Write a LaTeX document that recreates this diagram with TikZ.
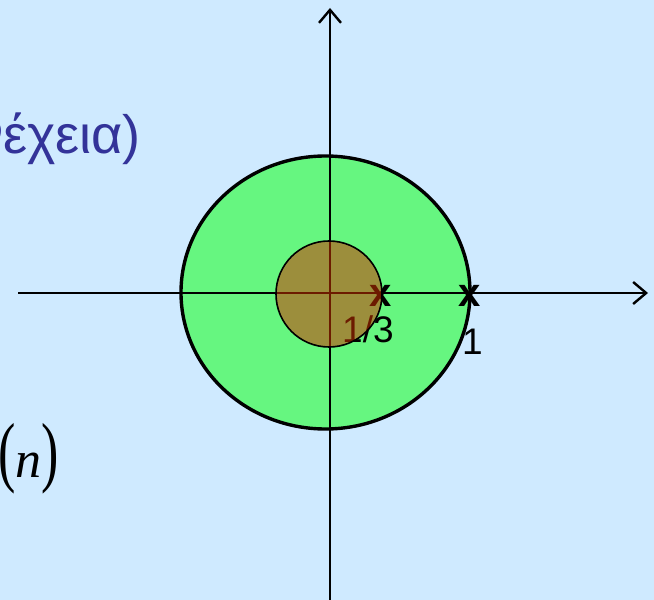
\documentclass[tikz,border=0pt]{standalone}
\usepackage{fontspec}
\setmainfont{Liberation Sans}
\newfontfamily\timesfont{Liberation Serif}
\usetikzlibrary{arrows.meta}
\definecolor{bgblue}{RGB}{207,234,255}
\definecolor{regiongreen}{RGB}{102,246,128}
\definecolor{txtblue}{RGB}{51,51,153}
\definecolor{roc}{RGB}{204,51,0}
\tikzset{
  axis/.style={line width=2.4pt,-{Straight Barb[length=13pt,width=22pt,line width=2.4pt]}},
  xmark/.style={font=\fontsize{40}{44}\selectfont\bfseries,inner sep=0pt,anchor=base},
  lbl/.style={font=\fontsize{37}{40}\selectfont,inner sep=0pt,anchor=base west},
}
\begin{document}
\begin{tikzpicture}[x=1pt,y=1pt]
\useasboundingbox (0,0) rectangle (654,600);
\clip (0,0) rectangle (654,600);
\fill[bgblue] (0,0) rectangle (654,600);
% outer region
\draw[fill=regiongreen,line width=3.4pt] (325.5,307.5) ellipse [x radius=144.5,y radius=136.5];
% axes
\coordinate (xl) at (18,307);
\coordinate (xr) at (648,307);
\coordinate (yb) at (330,0);
\coordinate (yt) at (330,592);
\draw[axis] (xl) -- (xr);
\draw[axis] (yb) -- (yt);
% marks
\node[xmark] (m1) at (381,293) {x};
\node[xmark] (m2) at (470,293) {x};
\node[lbl] (l1) at (342,257) {1/3};
\node[lbl] (l2) at (462,245) {1};
% inner circle
\fill[roc,fill opacity=0.53] (329,306) circle [radius=53];
\draw[line width=1.6pt] (329,306) circle [radius=53];
% texts
\node[inner sep=0pt,anchor=base east,text=txtblue,font=\fontsize{54}{60}\selectfont] (t1) at (141,446) {(συνέχεια)};
\node[inner sep=0pt,anchor=base east,font=\fontsize{52}{60}\timesfont] (t2) at (59,122) {\scalebox{1}[1.5]{(}\textit{n}\scalebox{1}[1.5]{)}};
\end{tikzpicture}
\end{document}
